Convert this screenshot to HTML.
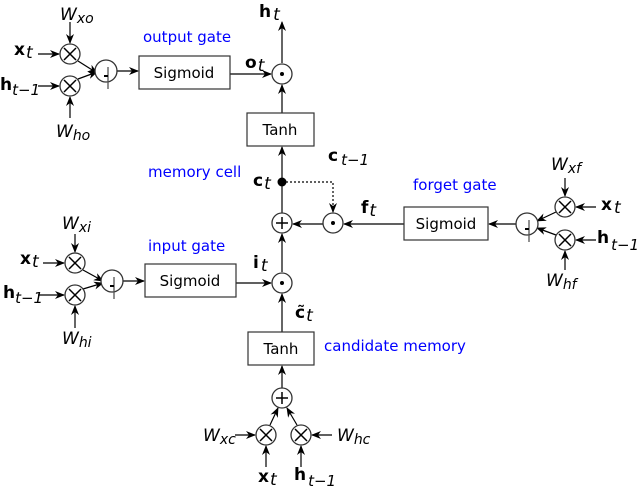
<!DOCTYPE html>
<html><head><meta charset="utf-8"><style>
html,body{margin:0;padding:0;background:#fff;}
svg{display:block;font-family:"DejaVu Sans","Liberation Sans",sans-serif;}
.b{fill:#0000ff;font-size:15px;}
.t{font-size:15px;fill:#000;}
.v{font-size:17px;font-weight:bold;}
.i{font-style:italic;font-weight:normal;}
</style></head><body>
<svg width="640" height="488" viewBox="0 0 640 488" xmlns="http://www.w3.org/2000/svg">
<defs>
<marker id="a" markerWidth="10" markerHeight="8" refX="9" refY="4" orient="auto" markerUnits="userSpaceOnUse">
<path d="M0,0 L10,4 L0,8 L3,4 Z" fill="#000"/></marker>
<g id="x"><circle r="10" fill="#fff" stroke="#333" stroke-width="1.3"/><path d="M-6,-6 L6,6 M6,-6 L-6,6" stroke="#000" stroke-width="1.5"/></g>
<g id="p"><circle r="10" fill="#fff" stroke="#333" stroke-width="1.3"/><path d="M-6,0 L6,0 M0,-6 L0,6" stroke="#000" stroke-width="1.5"/></g>
<g id="d"><circle r="10" fill="#fff" stroke="#333" stroke-width="1.3"/><circle r="2" fill="#000"/></g>
<g id="s"><circle r="11" fill="#fff" stroke="#333" stroke-width="1.3"/><path d="M2,-4 L2,18" stroke="#555" stroke-width="1.3"/><path d="M-2,5 L2,5" stroke="#000" stroke-width="2"/></g>
</defs>
<g stroke="#000" stroke-width="1.2" fill="none">
<line x1="70" y1="22" x2="70" y2="43" marker-end="url(#a)"/>
<line x1="70" y1="118" x2="70" y2="97" marker-end="url(#a)"/>
<line x1="38" y1="54" x2="59" y2="54" marker-end="url(#a)"/>
<line x1="38" y1="86" x2="59" y2="86" marker-end="url(#a)"/>
<line x1="78" y1="61" x2="97" y2="73" marker-end="url(#a)"/>
<line x1="78" y1="79" x2="97" y2="72" marker-end="url(#a)"/>
<line x1="117" y1="71" x2="138" y2="71" marker-end="url(#a)"/>
<line x1="230" y1="74" x2="271" y2="74" marker-end="url(#a)"/>
<line x1="282" y1="63" x2="282" y2="22" marker-end="url(#a)"/>
<line x1="282" y1="113" x2="282" y2="85" marker-end="url(#a)"/>
<line x1="282" y1="182" x2="282" y2="147" marker-end="url(#a)"/>
<line x1="282" y1="213" x2="282" y2="182"/>
<path d="M282,182 L333,182 L333,212" stroke-dasharray="2,2" marker-end="url(#a)"/>
<line x1="404" y1="224" x2="344" y2="224" marker-end="url(#a)"/>
<line x1="323" y1="224" x2="293" y2="224" marker-end="url(#a)"/>
<line x1="282" y1="272" x2="282" y2="234" marker-end="url(#a)"/>
<line x1="282" y1="332" x2="282" y2="294" marker-end="url(#a)"/>
<line x1="516" y1="224" x2="489" y2="224" marker-end="url(#a)"/>
<line x1="565" y1="178" x2="565" y2="196" marker-end="url(#a)"/>
<line x1="565" y1="270" x2="565" y2="251" marker-end="url(#a)"/>
<line x1="596" y1="207" x2="576" y2="207" marker-end="url(#a)"/>
<line x1="596" y1="240" x2="576" y2="240" marker-end="url(#a)"/>
<line x1="556" y1="212" x2="537" y2="221" marker-end="url(#a)"/>
<line x1="556" y1="235" x2="537" y2="228" marker-end="url(#a)"/>
<line x1="75" y1="234" x2="75" y2="252" marker-end="url(#a)"/>
<line x1="75" y1="328" x2="75" y2="306" marker-end="url(#a)"/>
<line x1="43" y1="263" x2="64" y2="263" marker-end="url(#a)"/>
<line x1="38" y1="295" x2="64" y2="295" marker-end="url(#a)"/>
<line x1="83" y1="270" x2="103" y2="281" marker-end="url(#a)"/>
<line x1="83" y1="289" x2="103" y2="283" marker-end="url(#a)"/>
<line x1="123" y1="281" x2="144" y2="281" marker-end="url(#a)"/>
<line x1="236" y1="283" x2="271" y2="283" marker-end="url(#a)"/>
<line x1="282" y1="388" x2="282" y2="366" marker-end="url(#a)"/>
<line x1="270" y1="425" x2="278" y2="408" marker-end="url(#a)"/>
<line x1="297" y1="425" x2="287" y2="408" marker-end="url(#a)"/>
<line x1="235" y1="435" x2="255" y2="435" marker-end="url(#a)"/>
<line x1="332" y1="435" x2="312" y2="435" marker-end="url(#a)"/>
<line x1="266" y1="467" x2="266" y2="446" marker-end="url(#a)"/>
<line x1="301" y1="467" x2="301" y2="446" marker-end="url(#a)"/>
</g>
<g fill="#fff" stroke="#333" stroke-width="1.2">
<rect x="139" y="56" width="91" height="33"/>
<rect x="247" y="113" width="67" height="33"/>
<rect x="404" y="207" width="84" height="33"/>
<rect x="145" y="264" width="91" height="33"/>
<rect x="248" y="332" width="66" height="33"/>
</g>
<use href="#x" x="70" y="54"/><use href="#x" x="70" y="86"/><use href="#s" x="106" y="71"/>
<use href="#d" x="282" y="74"/>
<use href="#p" x="282" y="223"/><use href="#d" x="333" y="223"/>
<circle cx="282" cy="182" r="4.5" fill="#000"/>
<use href="#s" x="527" y="224"/><use href="#x" x="565" y="207"/><use href="#x" x="565" y="240"/>
<use href="#x" x="75" y="263"/><use href="#x" x="75" y="295"/><use href="#s" x="112" y="281"/>
<use href="#d" x="282" y="283"/>
<use href="#p" x="282" y="398"/><use href="#x" x="266" y="435"/><use href="#x" x="301" y="435"/>
<g class="t" text-anchor="middle">
<text x="184" y="78">Sigmoid</text><text x="280" y="135">Tanh</text>
<text x="446" y="229">Sigmoid</text><text x="190" y="286">Sigmoid</text><text x="281" y="354">Tanh</text>
</g>
<g class="b">
<text x="143" y="42">output gate</text><text x="148" y="177">memory cell</text>
<text x="413" y="190">forget gate</text><text x="148" y="251">input gate</text>
<text x="324" y="351">candidate memory</text>
</g>
<g class="v">
<text x="259" y="17">h<tspan class="i" dx="2" dy="3">t</tspan></text>
<text x="245" y="68">o<tspan class="i" dx="1" dy="3">t</tspan></text>
<text x="253" y="186">c<tspan class="i" dx="1" dy="3">t</tspan></text>
<text x="328" y="161">c<tspan class="i" font-size="15" dx="3" dy="4">t−1</tspan></text>
<text x="361" y="213">f<tspan class="i" dx="1" dy="3">t</tspan></text>
<text x="253" y="268">i<tspan class="i" dx="2" dy="3">t</tspan></text>
<text x="295" y="318">c̃<tspan class="i" dx="1" dy="3">t</tspan></text>
<text x="14" y="55">x<tspan class="i" dx="1" dy="3">t</tspan></text>
<text x="0" y="90">h<tspan class="i" font-size="15" dy="5">t−1</tspan></text>
<text x="20" y="264">x<tspan class="i" dx="1" dy="3">t</tspan></text>
<text x="3" y="298">h<tspan class="i" font-size="15" dy="5">t−1</tspan></text>
<text x="601" y="210">x<tspan class="i" dx="2" dy="3">t</tspan></text>
<text x="597" y="243">h<tspan class="i" font-size="15" dx="2" dy="7">t−1</tspan></text>
<text x="258" y="482">x<tspan class="i" dx="1" dy="3">t</tspan></text>
<text x="294" y="480">h<tspan class="i" font-size="15" dx="2" dy="6">t−1</tspan></text>
</g>
<g font-style="italic" font-size="17">
<text x="60" y="20">W<tspan font-size="14" dy="3">xo</tspan></text>
<text x="56" y="137">W<tspan font-size="14" dy="3">ho</tspan></text>
<text x="62" y="229">W<tspan font-size="14" dy="3">xi</tspan></text>
<text x="62" y="344">W<tspan font-size="14" dy="3">hi</tspan></text>
<text x="551" y="170">W<tspan font-size="14" dy="3">xf</tspan></text>
<text x="546" y="286">W<tspan font-size="14" dy="3">hf</tspan></text>
<text x="203" y="441">W<tspan font-size="14" dy="3">xc</tspan></text>
<text x="337" y="441">W<tspan font-size="14" dy="3">hc</tspan></text>
</g>
</svg>
</body></html>
